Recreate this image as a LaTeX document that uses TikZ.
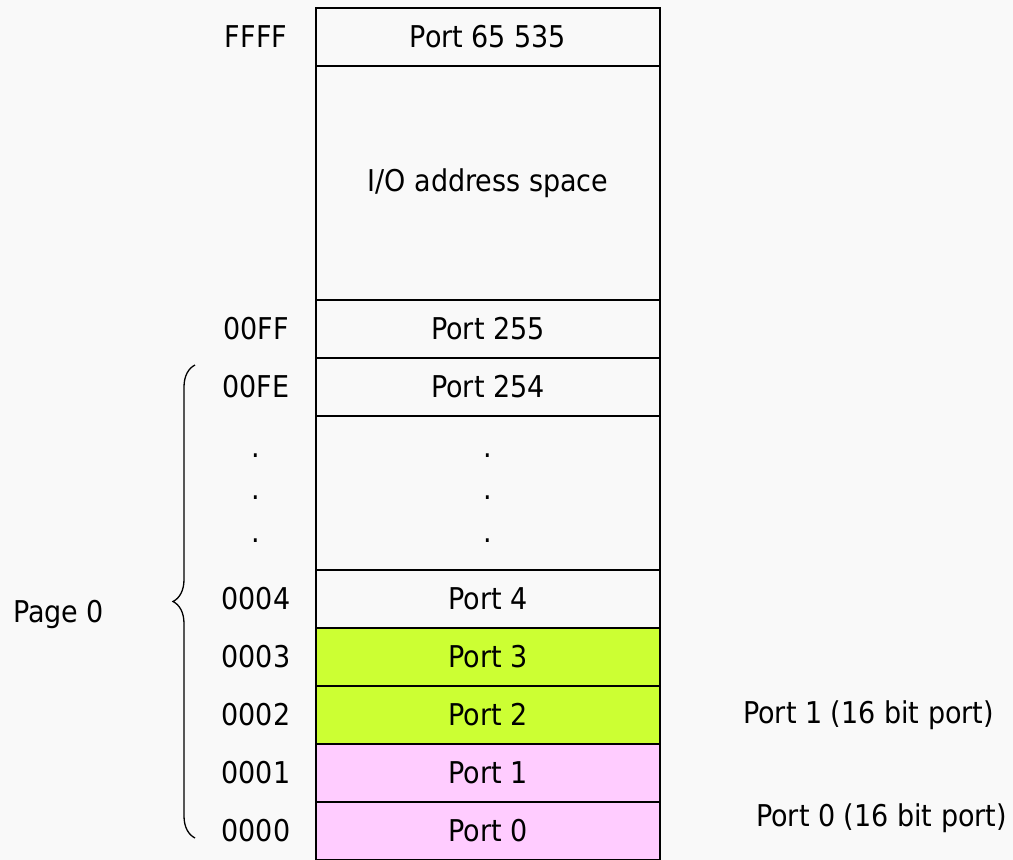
\documentclass[tikz,border=0pt]{standalone}
\usepackage{fontspec}
\setmainfont{DejaVu Sans Condensed}
\usetikzlibrary{decorations.pathreplacing}
\definecolor{portgreen}{HTML}{CCFF33}
\definecolor{portpink}{HTML}{FFCCFF}
\definecolor{bgpaper}{HTML}{F9F9F9}
\tikzset{
  cell/.style={draw=black, line width=1.6pt, minimum width=344pt, inner sep=0pt,
    font=\fontsize{30}{36}\selectfont},
  addr/.style={inner sep=0pt, font=\fontsize{30}{36}\selectfont},
  dotmark/.style={inner sep=0pt, anchor=base, font=\fontsize{30}{36}\selectfont}
}

\begin{document}
\begin{tikzpicture}[x=1pt, y=-1pt]
		%%%%% START %%%%%
		
		\fill[bgpaper] (0, 0) rectangle (1013, 860);
		\useasboundingbox (0, 0) rectangle (1013, 860);
		
		% memory column
		\node[cell, minimum height=58pt] (p65535) at (488, 37) {Port 65 535};
		\node[cell, minimum height=234pt] (iospace) at (488, 183) {I/O address space};
		\node[cell, minimum height=58pt] (p255) at (488, 329) {Port 255};
		\node[cell, minimum height=58pt] (p254) at (488, 387) {Port 254};
		\node[cell, minimum height=154pt] (gap) at (488, 493) {};
		\node[cell, minimum height=58pt] (p4) at (488, 599) {Port 4};
		\node[cell, minimum height=58pt, fill=portgreen] (p3) at (488, 657) {Port 3};
		\node[cell, minimum height=58pt, fill=portgreen] (p2) at (488, 715) {Port 2};
		\node[cell, minimum height=58pt, fill=portpink] (p1) at (488, 773) {Port 1};
		\node[cell, minimum height=58pt, fill=portpink] (p0) at (488, 831) {Port 0};
		
		% addresses
		\node[addr] (aFFFF) at (256, 37) {FFFF};
		\node[addr] (a00FF) at (256, 329) {00FF};
		\node[addr] (a00FE) at (256, 387) {00FE};
		\node[addr] (a0004) at (256, 599) {0004};
		\node[addr] (a0003) at (256, 657) {0003};
		\node[addr] (a0002) at (256, 715) {0002};
		\node[addr] (a0001) at (256, 773) {0001};
		\node[addr] (a0000) at (256, 831) {0000};
		
		% dots
		\foreach \y [count=\i] in {457, 499, 542} {
			\node[dotmark] (ldot\i) at (256, \y) {.};
			\node[dotmark] (rdot\i) at (488, \y) {.};
		}
		
		% page 0 brace
		\coordinate (braceBot) at (195, 838);
		\coordinate (braceTop) at (195, 365);
		\draw[line width=1.3pt, decorate, decoration={brace, amplitude=22pt, aspect=0.5}]
			(braceBot) -- (braceTop);
		\node[addr, anchor=west] (page0) at (13, 614) {Page 0};
		
		% 16 bit ports
		\node[addr, anchor=west] (wide1) at (743, 715) {Port 1 (16 bit port)};
		\node[addr, anchor=west] (wide0) at (756, 818) {Port 0 (16 bit port)};
		
		%%%%% END %%%%%
	\end{tikzpicture}
\end{document}
